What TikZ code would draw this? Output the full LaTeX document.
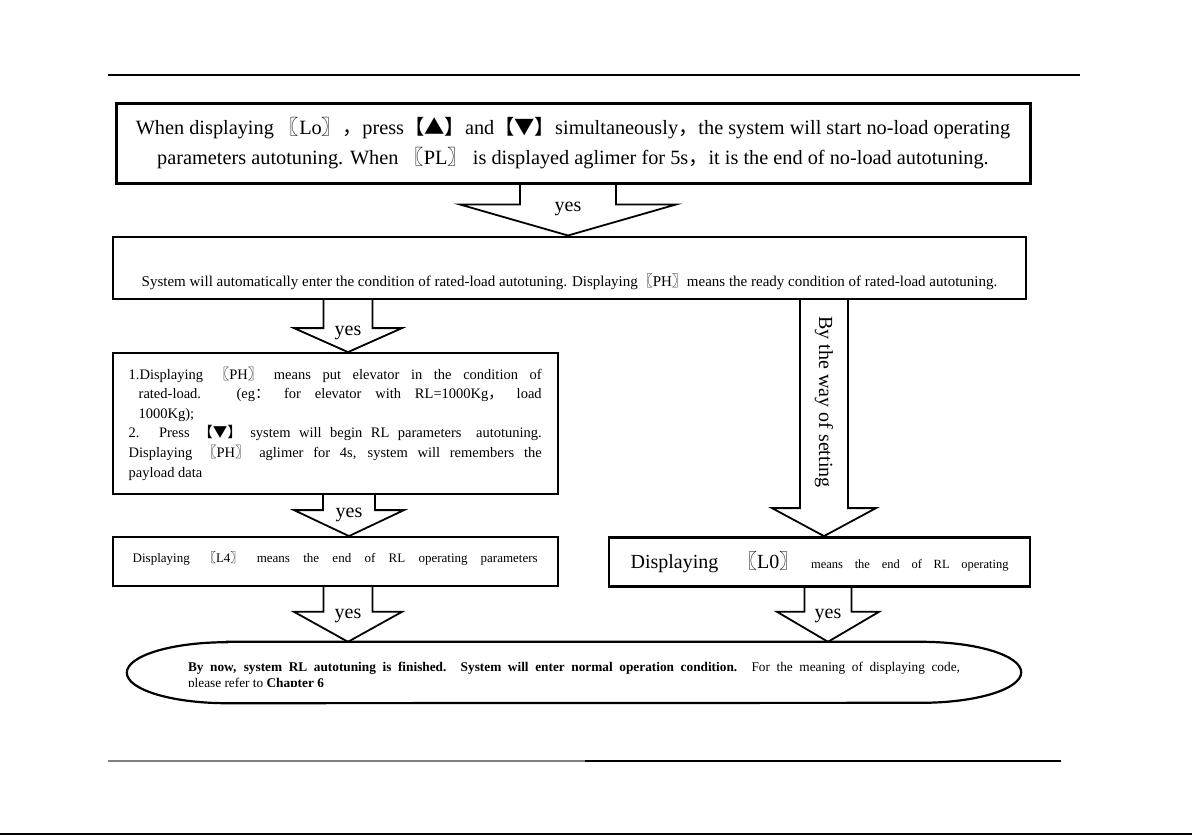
\documentclass[tikz,border=0pt]{standalone}
\usepackage{fontspec}
\setmainfont{Liberation Serif}
\newfontfamily\cjk{Noto Sans CJK SC}
\usepackage{tikz}
\usetikzlibrary{calc,positioning}

\newcommand{\cj}[1]{{\cjk #1}}
% block arrow: from, to, x, shaft half width, head half width, head length, label
\newcommand{\yesarrow}[7]{%
  \draw[blockarrow] let \p1=(#1.south), \p2=(#2.north) in
    ({#3pt-#4pt},\y1) -- ({#3pt-#4pt},{\y2+#6pt}) -- ({#3pt-#5pt},{\y2+#6pt})
    -- ({#3pt},\y2) -- ({#3pt+#5pt},{\y2+#6pt}) -- ({#3pt+#4pt},{\y2+#6pt}) -- ({#3pt+#4pt},\y1)
    ({#3pt},{\y2+#6pt}) node[yeslabel] {#7};}

\begin{document}
\begin{tikzpicture}[x=1pt,y=-1pt,node distance=53pt]
\tikzstyle{box} = [rectangle, draw, line width=2pt, inner sep=0pt, align=center]
\tikzstyle{blockarrow} = [draw, line width=1.8pt, line join=miter]
\tikzstyle{yeslabel} = [font=\fontsize{20}{24}\selectfont, anchor=base, yshift=-7pt]
\useasboundingbox (0,0) rectangle (1192,835);
% page rules
\draw[line width=1.3pt] (108,75) -- (1080,75);
\draw[line width=2pt, gray] (108,760.5) -- (585,760.5);
\draw[line width=2pt] (585,760.5) -- (1061,760.5);
\draw[line width=1.5pt] (0,834) -- (1192,834);

\node[box, line width=3pt, minimum width=914pt, minimum height=80pt, font=\fontsize{20.3}{30.5}\selectfont] (lo) at (573,143)
  {When displaying \cj{〖}Lo\cj{〗，}press\cj{【▲】}and\cj{【▼】}simultaneously\cj{，}the system will start no-load operating\\
   parameters autotuning. When \cj{〖}PL\cj{〗} is displayed aglimer for 5s\cj{，}it is the end of no-load autotuning.};
\node[box, line width=2.6pt, below=51pt of lo, xshift=-3.5pt, minimum width=913pt, minimum height=62pt,
      text height=41pt, text depth=3pt, font=\fontsize{15}{17}\selectfont] (ph)
  {System will automatically enter the condition of rated-load autotuning. Displaying\cj{〖}PH\cj{〗}means the ready condition of rated-load autotuning.};
\node[box, below=52pt of ph.south west, anchor=north west, minimum width=445pt, minimum height=141pt,
      text width=413pt, align=justify, font=\fontsize{14.5}{19.6}\selectfont] (load)
  {1.Displaying \cj{〖}PH\cj{〗} means put elevator in the condition of\linebreak
   \hspace*{10pt}rated-load. (eg\cj{：}\quad for elevator with RL=1000Kg\cj{，} load\linebreak
   \hspace*{10pt}1000Kg);\\
   2. Press \cj{【▼】} system will begin RL parameters\quad autotuning.\linebreak
   Displaying \cj{〖}PH\cj{〗} aglimer for 4s, system will remembers the\linebreak
   payload data};
\node[box, below=41pt of load.south west, anchor=north west, minimum width=445pt, minimum height=49pt,
      text depth=9pt, font=\fontsize{13}{16}\selectfont] (l4)
  {\makebox[405pt][s]{Displaying \cj{〖}L4\cj{〗} means the end of RL operating\quad parameters}};
\node[box, line width=2.4pt, below=236pt of ph.south east, anchor=north east, xshift=4pt, minimum width=421pt, minimum height=49pt,
      font=\fontsize{12.5}{16}\selectfont] (l0)
  {\makebox[378pt][s]{{\fontsize{20}{24}\selectfont Displaying \cj{〖}L0\cj{〗}} means the end of RL operating}};
\begin{scope}
\clip (0,0) rectangle (1192,686);
\node[minimum width=894pt, minimum height=61pt, inner sep=0pt, text width=772pt, align=justify,
      text height=17pt, font=\fontsize{13.3}{16}\selectfont] (end) at (574,672.5)
  {\textbf{By now, system RL autotuning is finished. System will enter normal operation condition.} For the meaning of displaying code,\linebreak
   please refer to \textbf{Chapter 6}};
\end{scope}
\draw[line width=2.2pt] ([xshift=100pt]end.north west) -- ([xshift=-100pt]end.north east)
  arc[start angle=90, end angle=-90, x radius=100pt, y radius=30.5pt]
  -- ([xshift=100pt]end.south west)
  arc[start angle=270, end angle=90, x radius=100pt, y radius=30.5pt] -- cycle;

\yesarrow{lo}{ph}{568}{48}{108}{31}{yes}
\yesarrow{ph}{load}{348}{24.5}{54}{24}{yes}
\yesarrow{load}{l4}{349}{26}{55}{26}{yes}
\yesarrow{l4}{end}{348}{24.5}{54}{30}{yes}
\yesarrow{l0}{end}{828}{23.5}{51}{30}{yes}
\yesarrow{ph}{l0}{824}{24}{52}{28}{}
\node[rotate=-90, font=\fontsize{20}{24}\selectfont] (way) at (824,402) {By the way of setting};
\end{tikzpicture}
\end{document}
